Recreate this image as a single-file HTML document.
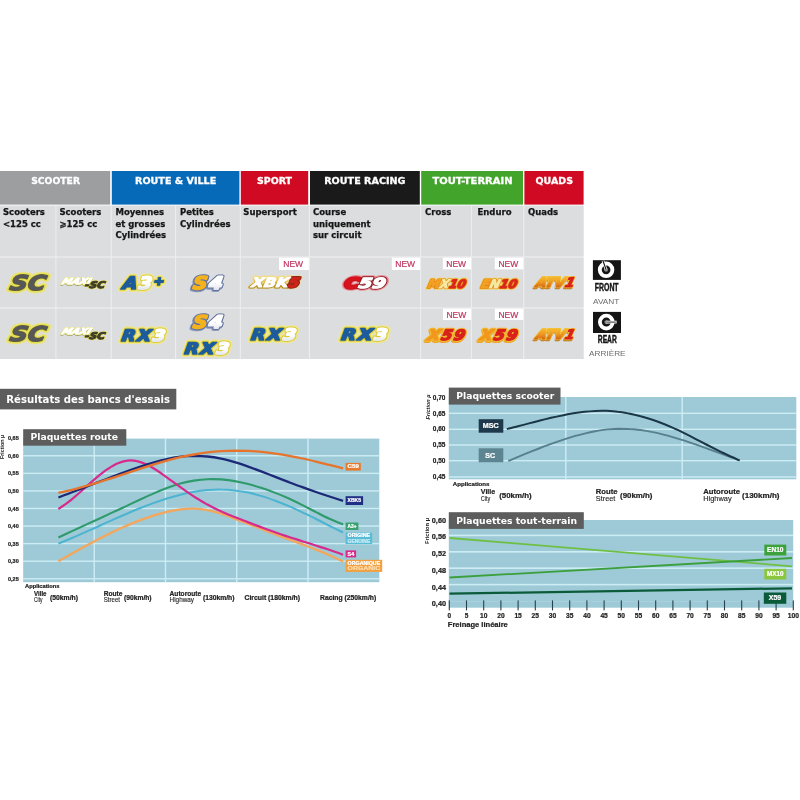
<!DOCTYPE html>
<html lang="fr"><head><meta charset="utf-8"><title>Plaquettes - Résultats des bancs d'essais</title>
<style>
html,body{margin:0;padding:0;background:#fff;}
body{width:800px;height:800px;overflow:hidden;}
svg{display:block;filter:blur(0.35px);}
</style></head><body>
<svg width="800" height="800" viewBox="0 0 800 800">
<defs>
<linearGradient id="gatv1" gradientUnits="userSpaceOnUse" x1="0" y1="278" x2="0" y2="288.4"><stop offset="0" stop-color="#f5b42e"/><stop offset="0.4" stop-color="#ee9620"/><stop offset="0.75" stop-color="#dc7418"/><stop offset="1" stop-color="#c25414"/></linearGradient>
<linearGradient id="gatv2" gradientUnits="userSpaceOnUse" x1="0" y1="330" x2="0" y2="340.4"><stop offset="0" stop-color="#f5b42e"/><stop offset="0.4" stop-color="#ee9620"/><stop offset="0.75" stop-color="#dc7418"/><stop offset="1" stop-color="#c25414"/></linearGradient>
<linearGradient id="gwh" x1="0" y1="0" x2="0" y2="1"><stop offset="0" stop-color="#ffffff"/><stop offset="0.5" stop-color="#ffffff"/><stop offset="1" stop-color="#d5d9e2"/></linearGradient>
<linearGradient id="gxbk" gradientUnits="userSpaceOnUse" x1="0" y1="276" x2="0" y2="289"><stop offset="0" stop-color="#f2e08e"/><stop offset="0.45" stop-color="#e2b83e"/><stop offset="1" stop-color="#9c7a1c"/></linearGradient>
</defs>
<rect width="800" height="800" fill="#ffffff"/>

<g id="table">
<rect x="0" y="171" width="110.2" height="33.6" fill="#9d9e9f" />
<text x="31.2" y="184.4" font-family="'DejaVu Sans','Liberation Sans',sans-serif" font-size="9.4" fill="#fff" font-weight="bold" textLength="48.8" lengthAdjust="spacingAndGlyphs" stroke="#fff" stroke-width="0.3">SCOOTER</text>
<rect x="111.8" y="171" width="127.6" height="33.6" fill="#066ab8" />
<text x="135" y="184.4" font-family="'DejaVu Sans','Liberation Sans',sans-serif" font-size="9.4" fill="#fff" font-weight="bold" textLength="81.3" lengthAdjust="spacingAndGlyphs" stroke="#fff" stroke-width="0.3">ROUTE &amp; VILLE</text>
<rect x="240.8" y="171" width="67.4" height="33.6" fill="#d00a22" />
<text x="257" y="184.4" font-family="'DejaVu Sans','Liberation Sans',sans-serif" font-size="9.4" fill="#fff" font-weight="bold" textLength="35" lengthAdjust="spacingAndGlyphs" stroke="#fff" stroke-width="0.3">SPORT</text>
<rect x="310" y="171" width="109.8" height="33.6" fill="#1a1a1a" />
<text x="324.2" y="184.4" font-family="'DejaVu Sans','Liberation Sans',sans-serif" font-size="9.4" fill="#fff" font-weight="bold" textLength="81.3" lengthAdjust="spacingAndGlyphs" stroke="#fff" stroke-width="0.3">ROUTE RACING</text>
<rect x="421.2" y="171" width="101.8" height="33.6" fill="#43a42b" />
<text x="432.5" y="184.4" font-family="'DejaVu Sans','Liberation Sans',sans-serif" font-size="9.4" fill="#fff" font-weight="bold" textLength="80.0" lengthAdjust="spacingAndGlyphs" stroke="#fff" stroke-width="0.3">TOUT-TERRAIN</text>
<rect x="524.4" y="171" width="59.2" height="33.6" fill="#d00a22" />
<text x="535.5" y="184.4" font-family="'DejaVu Sans','Liberation Sans',sans-serif" font-size="9.4" fill="#fff" font-weight="bold" textLength="37.5" lengthAdjust="spacingAndGlyphs" stroke="#fff" stroke-width="0.3">QUADS</text>
<rect x="0" y="205" width="583.6" height="154" fill="#eeeff0" />
<rect x="0" y="206" width="55.4" height="50.4" fill="#dcddde" />
<rect x="56.4" y="206" width="54.3" height="50.4" fill="#dcddde" />
<rect x="111.7" y="206" width="63.4" height="50.4" fill="#dcddde" />
<rect x="176.1" y="206" width="63.7" height="50.4" fill="#dcddde" />
<rect x="240.8" y="206" width="68.1" height="50.4" fill="#dcddde" />
<rect x="309.9" y="206" width="110.2" height="50.4" fill="#dcddde" />
<rect x="421.1" y="206" width="49.8" height="50.4" fill="#dcddde" />
<rect x="471.9" y="206" width="51.4" height="50.4" fill="#dcddde" />
<rect x="524.3" y="206" width="59.3" height="50.4" fill="#dcddde" />
<rect x="0" y="257.6" width="55.4" height="49.8" fill="#dcddde" />
<rect x="56.4" y="257.6" width="54.3" height="49.8" fill="#dcddde" />
<rect x="111.7" y="257.6" width="63.4" height="49.8" fill="#dcddde" />
<rect x="176.1" y="257.6" width="63.7" height="49.8" fill="#dcddde" />
<rect x="240.8" y="257.6" width="68.1" height="49.8" fill="#dcddde" />
<rect x="309.9" y="257.6" width="110.2" height="49.8" fill="#dcddde" />
<rect x="421.1" y="257.6" width="49.8" height="49.8" fill="#dcddde" />
<rect x="471.9" y="257.6" width="51.4" height="49.8" fill="#dcddde" />
<rect x="524.3" y="257.6" width="59.3" height="49.8" fill="#dcddde" />
<rect x="0" y="308.6" width="55.4" height="50.4" fill="#dcddde" />
<rect x="56.4" y="308.6" width="54.3" height="50.4" fill="#dcddde" />
<rect x="111.7" y="308.6" width="63.4" height="50.4" fill="#dcddde" />
<rect x="176.1" y="308.6" width="63.7" height="50.4" fill="#dcddde" />
<rect x="240.8" y="308.6" width="68.1" height="50.4" fill="#dcddde" />
<rect x="309.9" y="308.6" width="110.2" height="50.4" fill="#dcddde" />
<rect x="421.1" y="308.6" width="49.8" height="50.4" fill="#dcddde" />
<rect x="471.9" y="308.6" width="51.4" height="50.4" fill="#dcddde" />
<rect x="524.3" y="308.6" width="59.3" height="50.4" fill="#dcddde" />
<text x="3" y="215.1" font-family="'DejaVu Sans','Liberation Sans',sans-serif" font-size="8.5" fill="#161616" font-weight="bold" stroke="#161616" stroke-width="0.25">Scooters</text>
<text x="3" y="226.5" font-family="'DejaVu Sans','Liberation Sans',sans-serif" font-size="8.5" fill="#161616" font-weight="bold" stroke="#161616" stroke-width="0.25">&lt;125 cc</text>
<text x="59.4" y="215.1" font-family="'DejaVu Sans','Liberation Sans',sans-serif" font-size="8.5" fill="#161616" font-weight="bold" stroke="#161616" stroke-width="0.25">Scooters</text>
<text x="59.4" y="226.5" font-family="'DejaVu Sans','Liberation Sans',sans-serif" font-size="8.5" fill="#161616" font-weight="bold" stroke="#161616" stroke-width="0.25">⩾125 cc</text>
<text x="115.5" y="215.1" font-family="'DejaVu Sans','Liberation Sans',sans-serif" font-size="8.5" fill="#161616" font-weight="bold" stroke="#161616" stroke-width="0.25">Moyennes</text>
<text x="115.5" y="226.5" font-family="'DejaVu Sans','Liberation Sans',sans-serif" font-size="8.5" fill="#161616" font-weight="bold" stroke="#161616" stroke-width="0.25">et grosses</text>
<text x="115.5" y="237.9" font-family="'DejaVu Sans','Liberation Sans',sans-serif" font-size="8.5" fill="#161616" font-weight="bold" stroke="#161616" stroke-width="0.25">Cylindrées</text>
<text x="180" y="215.1" font-family="'DejaVu Sans','Liberation Sans',sans-serif" font-size="8.5" fill="#161616" font-weight="bold" stroke="#161616" stroke-width="0.25">Petites</text>
<text x="180" y="226.5" font-family="'DejaVu Sans','Liberation Sans',sans-serif" font-size="8.5" fill="#161616" font-weight="bold" stroke="#161616" stroke-width="0.25">Cylindrées</text>
<text x="243.3" y="215.1" font-family="'DejaVu Sans','Liberation Sans',sans-serif" font-size="8.5" fill="#161616" font-weight="bold" stroke="#161616" stroke-width="0.25">Supersport</text>
<text x="313" y="215.1" font-family="'DejaVu Sans','Liberation Sans',sans-serif" font-size="8.5" fill="#161616" font-weight="bold" stroke="#161616" stroke-width="0.25">Course</text>
<text x="313" y="226.5" font-family="'DejaVu Sans','Liberation Sans',sans-serif" font-size="8.5" fill="#161616" font-weight="bold" stroke="#161616" stroke-width="0.25">uniquement</text>
<text x="313" y="237.9" font-family="'DejaVu Sans','Liberation Sans',sans-serif" font-size="8.5" fill="#161616" font-weight="bold" stroke="#161616" stroke-width="0.25">sur circuit</text>
<text x="425" y="215.1" font-family="'DejaVu Sans','Liberation Sans',sans-serif" font-size="8.5" fill="#161616" font-weight="bold" stroke="#161616" stroke-width="0.25">Cross</text>
<text x="477.5" y="215.1" font-family="'DejaVu Sans','Liberation Sans',sans-serif" font-size="8.5" fill="#161616" font-weight="bold" stroke="#161616" stroke-width="0.25">Enduro</text>
<text x="528" y="215.1" font-family="'DejaVu Sans','Liberation Sans',sans-serif" font-size="8.5" fill="#161616" font-weight="bold" stroke="#161616" stroke-width="0.25">Quads</text>
</g>
<g transform="translate(57.24,0) skewX(-11.46)">
<text x="10.6" y="289.8" font-family="'DejaVu Sans','Liberation Sans',sans-serif" font-size="20.4" font-weight="bold" font-style="italic" textLength="35.8" lengthAdjust="spacingAndGlyphs" stroke-linejoin="round" transform="translate(0,0)" fill="#e9e58e" stroke="#e9e58e" stroke-width="6.2"><tspan>SC</tspan></text>
<text x="10.6" y="289.8" font-family="'DejaVu Sans','Liberation Sans',sans-serif" font-size="20.4" font-weight="bold" font-style="italic" textLength="35.8" lengthAdjust="spacingAndGlyphs" stroke-linejoin="round" fill="#e6de54" stroke="#e6de54" stroke-width="4.2"><tspan>SC</tspan></text>
<text x="10.6" y="289.8" font-family="'DejaVu Sans','Liberation Sans',sans-serif" font-size="20.4" font-weight="bold" font-style="italic" textLength="35.8" lengthAdjust="spacingAndGlyphs" stroke-linejoin="round" fill="#66662e" stroke="#66662e" stroke-width="1.5"><tspan>SC</tspan></text>
<text x="10.6" y="289.8" font-family="'DejaVu Sans','Liberation Sans',sans-serif" font-size="20.4" font-weight="bold" font-style="italic" textLength="35.8" lengthAdjust="spacingAndGlyphs" stroke-linejoin="round"><tspan fill="#57575b" stroke="#57575b" stroke-width="0.3">SC</tspan></text>
</g>
<g transform="translate(125.28,0) skewX(-24.06)">
<text x="62.6" y="283.6" font-family="'DejaVu Sans','Liberation Sans',sans-serif" font-size="8.4" font-weight="bold" font-style="italic" textLength="28.8" lengthAdjust="spacingAndGlyphs" stroke-linejoin="round" transform="translate(0.2,1.0)" fill="#8c8c30" stroke="#8c8c30" stroke-width="1.2"><tspan>MAXI</tspan></text>
<text x="62.6" y="283.6" font-family="'DejaVu Sans','Liberation Sans',sans-serif" font-size="8.4" font-weight="bold" font-style="italic" textLength="28.8" lengthAdjust="spacingAndGlyphs" stroke-linejoin="round" fill="#e6e07a" stroke="#e6e07a" stroke-width="1.9"><tspan>MAXI</tspan></text>
<text x="62.6" y="283.6" font-family="'DejaVu Sans','Liberation Sans',sans-serif" font-size="8.4" font-weight="bold" font-style="italic" textLength="28.8" lengthAdjust="spacingAndGlyphs" stroke-linejoin="round"><tspan fill="#ffffff" stroke="#ffffff" stroke-width="0.9">MAXI</tspan></text>
</g>
<g transform="translate(57.72,0) skewX(-11.46)">
<text x="85.2" y="288.1" font-family="'DejaVu Sans','Liberation Sans',sans-serif" font-size="9.2" font-weight="bold" font-style="italic" textLength="20.0" lengthAdjust="spacingAndGlyphs" stroke-linejoin="round" fill="#e2dc5a" stroke="#e2dc5a" stroke-width="2.0"><tspan>-SC</tspan></text>
<text x="85.2" y="288.1" font-family="'DejaVu Sans','Liberation Sans',sans-serif" font-size="9.2" font-weight="bold" font-style="italic" textLength="20.0" lengthAdjust="spacingAndGlyphs" stroke-linejoin="round"><tspan fill="#3e3e28" stroke="#3e3e28" stroke-width="1.0">-SC</tspan></text>
</g>
<g transform="translate(67.53,0) skewX(-11.46)">
<text x="10.6" y="340.6" font-family="'DejaVu Sans','Liberation Sans',sans-serif" font-size="20.4" font-weight="bold" font-style="italic" textLength="35.8" lengthAdjust="spacingAndGlyphs" stroke-linejoin="round" transform="translate(0,0)" fill="#e9e58e" stroke="#e9e58e" stroke-width="6.2"><tspan>SC</tspan></text>
<text x="10.6" y="340.6" font-family="'DejaVu Sans','Liberation Sans',sans-serif" font-size="20.4" font-weight="bold" font-style="italic" textLength="35.8" lengthAdjust="spacingAndGlyphs" stroke-linejoin="round" fill="#e6de54" stroke="#e6de54" stroke-width="4.2"><tspan>SC</tspan></text>
<text x="10.6" y="340.6" font-family="'DejaVu Sans','Liberation Sans',sans-serif" font-size="20.4" font-weight="bold" font-style="italic" textLength="35.8" lengthAdjust="spacingAndGlyphs" stroke-linejoin="round" fill="#66662e" stroke="#66662e" stroke-width="1.5"><tspan>SC</tspan></text>
<text x="10.6" y="340.6" font-family="'DejaVu Sans','Liberation Sans',sans-serif" font-size="20.4" font-weight="bold" font-style="italic" textLength="35.8" lengthAdjust="spacingAndGlyphs" stroke-linejoin="round"><tspan fill="#57575b" stroke="#57575b" stroke-width="0.3">SC</tspan></text>
</g>
<g transform="translate(147.96,0) skewX(-24.06)">
<text x="62.6" y="334.40000000000003" font-family="'DejaVu Sans','Liberation Sans',sans-serif" font-size="8.4" font-weight="bold" font-style="italic" textLength="28.8" lengthAdjust="spacingAndGlyphs" stroke-linejoin="round" transform="translate(0.2,1.0)" fill="#8c8c30" stroke="#8c8c30" stroke-width="1.2"><tspan>MAXI</tspan></text>
<text x="62.6" y="334.40000000000003" font-family="'DejaVu Sans','Liberation Sans',sans-serif" font-size="8.4" font-weight="bold" font-style="italic" textLength="28.8" lengthAdjust="spacingAndGlyphs" stroke-linejoin="round" fill="#e6e07a" stroke="#e6e07a" stroke-width="1.9"><tspan>MAXI</tspan></text>
<text x="62.6" y="334.40000000000003" font-family="'DejaVu Sans','Liberation Sans',sans-serif" font-size="8.4" font-weight="bold" font-style="italic" textLength="28.8" lengthAdjust="spacingAndGlyphs" stroke-linejoin="round"><tspan fill="#ffffff" stroke="#ffffff" stroke-width="0.9">MAXI</tspan></text>
</g>
<g transform="translate(68.02,0) skewX(-11.46)">
<text x="85.2" y="338.90000000000003" font-family="'DejaVu Sans','Liberation Sans',sans-serif" font-size="9.2" font-weight="bold" font-style="italic" textLength="20.0" lengthAdjust="spacingAndGlyphs" stroke-linejoin="round" fill="#e2dc5a" stroke="#e2dc5a" stroke-width="2.0"><tspan>-SC</tspan></text>
<text x="85.2" y="338.90000000000003" font-family="'DejaVu Sans','Liberation Sans',sans-serif" font-size="9.2" font-weight="bold" font-style="italic" textLength="20.0" lengthAdjust="spacingAndGlyphs" stroke-linejoin="round"><tspan fill="#3e3e28" stroke="#3e3e28" stroke-width="1.0">-SC</tspan></text>
</g>
<g transform="translate(36.92,0) skewX(-7.45)">
<text x="123" y="288.6" font-family="'DejaVu Sans','Liberation Sans',sans-serif" font-size="17" font-weight="bold" font-style="italic" textLength="43" lengthAdjust="spacingAndGlyphs" stroke-linejoin="round" letter-spacing="1.4" transform="translate(0,0)" fill="#efe88e" stroke="#efe88e" stroke-width="5.8"><tspan>A</tspan><tspan>3</tspan><tspan font-size="11.5" dy="-3.2">+</tspan></text>
<text x="123" y="288.6" font-family="'DejaVu Sans','Liberation Sans',sans-serif" font-size="17" font-weight="bold" font-style="italic" textLength="43" lengthAdjust="spacingAndGlyphs" stroke-linejoin="round" letter-spacing="1.4" fill="#ddd040" stroke="#ddd040" stroke-width="3.6"><tspan>A</tspan><tspan>3</tspan><tspan font-size="11.5" dy="-3.2">+</tspan></text>
<text x="123" y="288.6" font-family="'DejaVu Sans','Liberation Sans',sans-serif" font-size="17" font-weight="bold" font-style="italic" textLength="43" lengthAdjust="spacingAndGlyphs" stroke-linejoin="round" letter-spacing="1.4"><tspan fill="#1c5c9c" stroke="#1c5c9c" stroke-width="1.7">A</tspan><tspan fill="url(#gwh)" stroke="url(#gwh)" stroke-width="1.7">3</tspan><tspan font-size="11.5" dy="-3.2" fill="#1c5c9c" stroke="#1c5c9c" stroke-width="1.7">+</tspan></text>
</g>
<g transform="translate(36.93,0) skewX(-7.45)">
<text x="193.4" y="288.8" font-family="'DejaVu Sans','Liberation Sans',sans-serif" font-size="17.4" font-weight="bold" font-style="italic" textLength="31.6" lengthAdjust="spacingAndGlyphs" stroke-linejoin="round" letter-spacing="1.6" transform="translate(-0.8,1.0)" fill="#8c9bbb" stroke="#8c9bbb" stroke-width="4.2"><tspan>S</tspan><tspan>4</tspan></text>
<text x="193.4" y="288.8" font-family="'DejaVu Sans','Liberation Sans',sans-serif" font-size="17.4" font-weight="bold" font-style="italic" textLength="31.6" lengthAdjust="spacingAndGlyphs" stroke-linejoin="round" letter-spacing="1.6" fill="#62739f" stroke="#62739f" stroke-width="3.8"><tspan>S</tspan><tspan>4</tspan></text>
<text x="193.4" y="288.8" font-family="'DejaVu Sans','Liberation Sans',sans-serif" font-size="17.4" font-weight="bold" font-style="italic" textLength="31.6" lengthAdjust="spacingAndGlyphs" stroke-linejoin="round" letter-spacing="1.6"><tspan fill="#f4b21e" stroke="#f4b21e" stroke-width="1.8">S</tspan><tspan fill="url(#gwh)" stroke="url(#gwh)" stroke-width="1.8">4</tspan></text>
</g>
<g transform="translate(57.26,0) skewX(-11.46)">
<text x="252" y="287.2" font-family="'DejaVu Sans','Liberation Sans',sans-serif" font-size="13" font-weight="bold" font-style="italic" textLength="47.8" lengthAdjust="spacingAndGlyphs" stroke-linejoin="round" transform="translate(0,0.2)" fill="#ecdca0" stroke="#ecdca0" stroke-width="4.2"><tspan>XBK</tspan><tspan>5</tspan></text>
<text x="252" y="287.2" font-family="'DejaVu Sans','Liberation Sans',sans-serif" font-size="13" font-weight="bold" font-style="italic" textLength="47.8" lengthAdjust="spacingAndGlyphs" stroke-linejoin="round" fill="url(#gxbk)" stroke="url(#gxbk)" stroke-width="3.0"><tspan>XBK</tspan><tspan fill="#8e2a14" stroke="#8e2a14">5</tspan></text>
<text x="252" y="287.2" font-family="'DejaVu Sans','Liberation Sans',sans-serif" font-size="13" font-weight="bold" font-style="italic" textLength="47.8" lengthAdjust="spacingAndGlyphs" stroke-linejoin="round"><tspan fill="#ffffff" stroke="#ffffff" stroke-width="1.0">XBK</tspan><tspan fill="#cf241a" stroke="#cf241a" stroke-width="1.0">5</tspan></text>
</g>
<g transform="translate(57.3,0) skewX(-11.46)">
<text x="345" y="287.8" font-family="'DejaVu Sans','Liberation Sans',sans-serif" font-size="14" font-weight="bold" font-style="italic" textLength="41" lengthAdjust="spacingAndGlyphs" stroke-linejoin="round" transform="translate(0,0)" fill="#e78e96" stroke="#e78e96" stroke-width="5.0"><tspan>C</tspan><tspan>59</tspan></text>
<text x="345" y="287.8" font-family="'DejaVu Sans','Liberation Sans',sans-serif" font-size="14" font-weight="bold" font-style="italic" textLength="41" lengthAdjust="spacingAndGlyphs" stroke-linejoin="round" fill="#8c1822" stroke="#8c1822" stroke-width="2.9"><tspan fill="#c4121c" stroke="#c4121c">C</tspan><tspan>59</tspan></text>
<text x="345" y="287.8" font-family="'DejaVu Sans','Liberation Sans',sans-serif" font-size="14" font-weight="bold" font-style="italic" textLength="41" lengthAdjust="spacingAndGlyphs" stroke-linejoin="round"><tspan fill="#d8141e" stroke="#d8141e" stroke-width="1.3">C</tspan><tspan fill="#ffffff" stroke="#ffffff" stroke-width="1.3">59</tspan></text>
</g>
<g transform="translate(69.39,0) skewX(-13.75)">
<text x="428.4" y="287.8" font-family="'DejaVu Sans','Liberation Sans',sans-serif" font-size="11.6" font-weight="bold" font-style="italic" textLength="37.6" lengthAdjust="spacingAndGlyphs" stroke-linejoin="round" transform="translate(0,0)" fill="#f3d462" stroke="#f3d462" stroke-width="3.6"><tspan>M</tspan><tspan>X</tspan><tspan>10</tspan></text>
<text x="428.4" y="287.8" font-family="'DejaVu Sans','Liberation Sans',sans-serif" font-size="11.6" font-weight="bold" font-style="italic" textLength="37.6" lengthAdjust="spacingAndGlyphs" stroke-linejoin="round" fill="#df861c" stroke="#df861c" stroke-width="2.2"><tspan>M</tspan><tspan>X</tspan><tspan>10</tspan></text>
<text x="428.4" y="287.8" font-family="'DejaVu Sans','Liberation Sans',sans-serif" font-size="11.6" font-weight="bold" font-style="italic" textLength="37.6" lengthAdjust="spacingAndGlyphs" stroke-linejoin="round"><tspan fill="#f3a024" stroke="#f3a024" stroke-width="0.9">M</tspan><tspan fill="#f7e9a2" stroke="#f7e9a2" stroke-width="0.9">X</tspan><tspan fill="#dc261b" stroke="#dc261b" stroke-width="0.9">10</tspan></text>
</g>
<g transform="translate(69.39,0) skewX(-13.75)">
<text x="481.6" y="287.8" font-family="'DejaVu Sans','Liberation Sans',sans-serif" font-size="11.6" font-weight="bold" font-style="italic" textLength="35.6" lengthAdjust="spacingAndGlyphs" stroke-linejoin="round" transform="translate(0,0)" fill="#f3d462" stroke="#f3d462" stroke-width="3.6"><tspan>E</tspan><tspan>N</tspan><tspan>10</tspan></text>
<text x="481.6" y="287.8" font-family="'DejaVu Sans','Liberation Sans',sans-serif" font-size="11.6" font-weight="bold" font-style="italic" textLength="35.6" lengthAdjust="spacingAndGlyphs" stroke-linejoin="round" fill="#df861c" stroke="#df861c" stroke-width="2.2"><tspan>E</tspan><tspan>N</tspan><tspan>10</tspan></text>
<text x="481.6" y="287.8" font-family="'DejaVu Sans','Liberation Sans',sans-serif" font-size="11.6" font-weight="bold" font-style="italic" textLength="35.6" lengthAdjust="spacingAndGlyphs" stroke-linejoin="round"><tspan fill="#f3a024" stroke="#f3a024" stroke-width="0.9">E</tspan><tspan fill="#f7e9a2" stroke="#f7e9a2" stroke-width="0.9">N</tspan><tspan fill="#dc261b" stroke="#dc261b" stroke-width="0.9">10</tspan></text>
</g>
<g transform="translate(75.2,0) skewX(-14.90)">
<text x="536.6" y="287.5" font-family="'DejaVu Sans','Liberation Sans',sans-serif" font-size="13.2" font-weight="bold" font-style="italic" textLength="38.4" lengthAdjust="spacingAndGlyphs" stroke-linejoin="round" transform="translate(-0.2,0.9)" fill="#b8721c" stroke="#b8721c" stroke-width="2.4"><tspan>ATV</tspan><tspan>1</tspan></text>
<text x="536.6" y="287.5" font-family="'DejaVu Sans','Liberation Sans',sans-serif" font-size="13.2" font-weight="bold" font-style="italic" textLength="38.4" lengthAdjust="spacingAndGlyphs" stroke-linejoin="round" fill="#f2c63a" stroke="#f2c63a" stroke-width="2.6"><tspan>ATV</tspan><tspan>1</tspan></text>
<text x="536.6" y="287.5" font-family="'DejaVu Sans','Liberation Sans',sans-serif" font-size="13.2" font-weight="bold" font-style="italic" textLength="38.4" lengthAdjust="spacingAndGlyphs" stroke-linejoin="round"><tspan fill="url(#gatv1)" stroke="url(#gatv1)" stroke-width="1.2">ATV</tspan><tspan fill="#d8221c" stroke="#d8221c" stroke-width="1.2">1</tspan></text>
</g>
<g transform="translate(43.78,0) skewX(-7.45)">
<text x="122.0" y="340.6" font-family="'DejaVu Sans','Liberation Sans',sans-serif" font-size="15.8" font-weight="bold" font-style="italic" textLength="45.3" lengthAdjust="spacingAndGlyphs" stroke-linejoin="round" letter-spacing="1.5" transform="translate(0,0)" fill="#efe88e" stroke="#efe88e" stroke-width="6.0"><tspan>RX</tspan><tspan>3</tspan></text>
<text x="122.0" y="340.6" font-family="'DejaVu Sans','Liberation Sans',sans-serif" font-size="15.8" font-weight="bold" font-style="italic" textLength="45.3" lengthAdjust="spacingAndGlyphs" stroke-linejoin="round" letter-spacing="1.5" fill="#d9ca3a" stroke="#d9ca3a" stroke-width="3.6"><tspan>RX</tspan><tspan>3</tspan></text>
<text x="122.0" y="340.6" font-family="'DejaVu Sans','Liberation Sans',sans-serif" font-size="15.8" font-weight="bold" font-style="italic" textLength="45.3" lengthAdjust="spacingAndGlyphs" stroke-linejoin="round" letter-spacing="1.5"><tspan fill="#1c5c9c" stroke="#1c5c9c" stroke-width="1.7">RX</tspan><tspan fill="url(#gwh)" stroke="url(#gwh)" stroke-width="1.7">3</tspan></text>
</g>
<g transform="translate(42.1,0) skewX(-7.45)">
<text x="193.4" y="328.40000000000003" font-family="'DejaVu Sans','Liberation Sans',sans-serif" font-size="17.4" font-weight="bold" font-style="italic" textLength="31.6" lengthAdjust="spacingAndGlyphs" stroke-linejoin="round" letter-spacing="1.6" transform="translate(-0.8,1.0)" fill="#8c9bbb" stroke="#8c9bbb" stroke-width="4.2"><tspan>S</tspan><tspan>4</tspan></text>
<text x="193.4" y="328.40000000000003" font-family="'DejaVu Sans','Liberation Sans',sans-serif" font-size="17.4" font-weight="bold" font-style="italic" textLength="31.6" lengthAdjust="spacingAndGlyphs" stroke-linejoin="round" letter-spacing="1.6" fill="#62739f" stroke="#62739f" stroke-width="3.8"><tspan>S</tspan><tspan>4</tspan></text>
<text x="193.4" y="328.40000000000003" font-family="'DejaVu Sans','Liberation Sans',sans-serif" font-size="17.4" font-weight="bold" font-style="italic" textLength="31.6" lengthAdjust="spacingAndGlyphs" stroke-linejoin="round" letter-spacing="1.6"><tspan fill="#f4b21e" stroke="#f4b21e" stroke-width="1.8">S</tspan><tspan fill="url(#gwh)" stroke="url(#gwh)" stroke-width="1.8">4</tspan></text>
</g>
<g transform="translate(45.5,0) skewX(-7.45)">
<text x="185.0" y="353.8" font-family="'DejaVu Sans','Liberation Sans',sans-serif" font-size="15.8" font-weight="bold" font-style="italic" textLength="46.2" lengthAdjust="spacingAndGlyphs" stroke-linejoin="round" letter-spacing="1.5" transform="translate(0,0)" fill="#efe88e" stroke="#efe88e" stroke-width="6.0"><tspan>RX</tspan><tspan>3</tspan></text>
<text x="185.0" y="353.8" font-family="'DejaVu Sans','Liberation Sans',sans-serif" font-size="15.8" font-weight="bold" font-style="italic" textLength="46.2" lengthAdjust="spacingAndGlyphs" stroke-linejoin="round" letter-spacing="1.5" fill="#d9ca3a" stroke="#d9ca3a" stroke-width="3.6"><tspan>RX</tspan><tspan>3</tspan></text>
<text x="185.0" y="353.8" font-family="'DejaVu Sans','Liberation Sans',sans-serif" font-size="15.8" font-weight="bold" font-style="italic" textLength="46.2" lengthAdjust="spacingAndGlyphs" stroke-linejoin="round" letter-spacing="1.5"><tspan fill="#1c5c9c" stroke="#1c5c9c" stroke-width="1.7">RX</tspan><tspan fill="url(#gwh)" stroke="url(#gwh)" stroke-width="1.7">3</tspan></text>
</g>
<g transform="translate(43.75,0) skewX(-7.45)">
<text x="251.4" y="340.40000000000003" font-family="'DejaVu Sans','Liberation Sans',sans-serif" font-size="15.8" font-weight="bold" font-style="italic" textLength="46.8" lengthAdjust="spacingAndGlyphs" stroke-linejoin="round" letter-spacing="1.5" transform="translate(0,0)" fill="#efe88e" stroke="#efe88e" stroke-width="6.0"><tspan>RX</tspan><tspan>3</tspan></text>
<text x="251.4" y="340.40000000000003" font-family="'DejaVu Sans','Liberation Sans',sans-serif" font-size="15.8" font-weight="bold" font-style="italic" textLength="46.8" lengthAdjust="spacingAndGlyphs" stroke-linejoin="round" letter-spacing="1.5" fill="#d9ca3a" stroke="#d9ca3a" stroke-width="3.6"><tspan>RX</tspan><tspan>3</tspan></text>
<text x="251.4" y="340.40000000000003" font-family="'DejaVu Sans','Liberation Sans',sans-serif" font-size="15.8" font-weight="bold" font-style="italic" textLength="46.8" lengthAdjust="spacingAndGlyphs" stroke-linejoin="round" letter-spacing="1.5"><tspan fill="#1c5c9c" stroke="#1c5c9c" stroke-width="1.7">RX</tspan><tspan fill="url(#gwh)" stroke="url(#gwh)" stroke-width="1.7">3</tspan></text>
</g>
<g transform="translate(43.75,0) skewX(-7.45)">
<text x="341.9" y="340.40000000000003" font-family="'DejaVu Sans','Liberation Sans',sans-serif" font-size="15.8" font-weight="bold" font-style="italic" textLength="47.7" lengthAdjust="spacingAndGlyphs" stroke-linejoin="round" letter-spacing="1.5" transform="translate(0,0)" fill="#efe88e" stroke="#efe88e" stroke-width="6.0"><tspan>RX</tspan><tspan>3</tspan></text>
<text x="341.9" y="340.40000000000003" font-family="'DejaVu Sans','Liberation Sans',sans-serif" font-size="15.8" font-weight="bold" font-style="italic" textLength="47.7" lengthAdjust="spacingAndGlyphs" stroke-linejoin="round" letter-spacing="1.5" fill="#d9ca3a" stroke="#d9ca3a" stroke-width="3.6"><tspan>RX</tspan><tspan>3</tspan></text>
<text x="341.9" y="340.40000000000003" font-family="'DejaVu Sans','Liberation Sans',sans-serif" font-size="15.8" font-weight="bold" font-style="italic" textLength="47.7" lengthAdjust="spacingAndGlyphs" stroke-linejoin="round" letter-spacing="1.5"><tspan fill="#1c5c9c" stroke="#1c5c9c" stroke-width="1.7">RX</tspan><tspan fill="url(#gwh)" stroke="url(#gwh)" stroke-width="1.7">3</tspan></text>
</g>
<g transform="translate(74.86,0) skewX(-12.61)">
<text x="428.09999999999997" y="340" font-family="'DejaVu Sans','Liberation Sans',sans-serif" font-size="14.4" font-weight="bold" font-style="italic" textLength="38.5" lengthAdjust="spacingAndGlyphs" stroke-linejoin="round" letter-spacing="1.2" transform="translate(-0.3,0.6)" fill="#e9a52a" stroke="#e9a52a" stroke-width="3.8"><tspan>X</tspan><tspan>59</tspan></text>
<text x="428.09999999999997" y="340" font-family="'DejaVu Sans','Liberation Sans',sans-serif" font-size="14.4" font-weight="bold" font-style="italic" textLength="38.5" lengthAdjust="spacingAndGlyphs" stroke-linejoin="round" letter-spacing="1.2" fill="#f3bc30" stroke="#f3bc30" stroke-width="3.4"><tspan>X</tspan><tspan>59</tspan></text>
<text x="428.09999999999997" y="340" font-family="'DejaVu Sans','Liberation Sans',sans-serif" font-size="14.4" font-weight="bold" font-style="italic" textLength="38.5" lengthAdjust="spacingAndGlyphs" stroke-linejoin="round" letter-spacing="1.2"><tspan fill="#f0981e" stroke="#f0981e" stroke-width="1.4">X</tspan><tspan fill="#d8221b" stroke="#d8221b" stroke-width="1.4">59</tspan></text>
</g>
<g transform="translate(74.86,0) skewX(-12.61)">
<text x="480.79999999999995" y="340" font-family="'DejaVu Sans','Liberation Sans',sans-serif" font-size="14.4" font-weight="bold" font-style="italic" textLength="38.1" lengthAdjust="spacingAndGlyphs" stroke-linejoin="round" letter-spacing="1.2" transform="translate(-0.3,0.6)" fill="#e9a52a" stroke="#e9a52a" stroke-width="3.8"><tspan>X</tspan><tspan>59</tspan></text>
<text x="480.79999999999995" y="340" font-family="'DejaVu Sans','Liberation Sans',sans-serif" font-size="14.4" font-weight="bold" font-style="italic" textLength="38.1" lengthAdjust="spacingAndGlyphs" stroke-linejoin="round" letter-spacing="1.2" fill="#f3bc30" stroke="#f3bc30" stroke-width="3.4"><tspan>X</tspan><tspan>59</tspan></text>
<text x="480.79999999999995" y="340" font-family="'DejaVu Sans','Liberation Sans',sans-serif" font-size="14.4" font-weight="bold" font-style="italic" textLength="38.1" lengthAdjust="spacingAndGlyphs" stroke-linejoin="round" letter-spacing="1.2"><tspan fill="#f0981e" stroke="#f0981e" stroke-width="1.4">X</tspan><tspan fill="#d8221b" stroke="#d8221b" stroke-width="1.4">59</tspan></text>
</g>
<g transform="translate(89.03,0) skewX(-14.90)">
<text x="536.6" y="339.5" font-family="'DejaVu Sans','Liberation Sans',sans-serif" font-size="13.2" font-weight="bold" font-style="italic" textLength="38.4" lengthAdjust="spacingAndGlyphs" stroke-linejoin="round" transform="translate(-0.2,0.9)" fill="#b8721c" stroke="#b8721c" stroke-width="2.4"><tspan>ATV</tspan><tspan>1</tspan></text>
<text x="536.6" y="339.5" font-family="'DejaVu Sans','Liberation Sans',sans-serif" font-size="13.2" font-weight="bold" font-style="italic" textLength="38.4" lengthAdjust="spacingAndGlyphs" stroke-linejoin="round" fill="#f2c63a" stroke="#f2c63a" stroke-width="2.6"><tspan>ATV</tspan><tspan>1</tspan></text>
<text x="536.6" y="339.5" font-family="'DejaVu Sans','Liberation Sans',sans-serif" font-size="13.2" font-weight="bold" font-style="italic" textLength="38.4" lengthAdjust="spacingAndGlyphs" stroke-linejoin="round"><tspan fill="url(#gatv2)" stroke="url(#gatv2)" stroke-width="1.2">ATV</tspan><tspan fill="#d8221c" stroke="#d8221c" stroke-width="1.2">1</tspan></text>
</g>
<rect x="279" y="257.6" width="29.8" height="12.4" fill="#ffffff" />
<text x="283.3" y="266.6" font-family="'Liberation Sans','DejaVu Sans',sans-serif" font-size="8.5" fill="#bf3561" font-weight="normal" textLength="19.8" lengthAdjust="spacingAndGlyphs" stroke="#bf3561" stroke-width="0.2">NEW</text>
<rect x="391.8" y="257.6" width="28.2" height="12.4" fill="#ffffff" />
<text x="395.3" y="266.6" font-family="'Liberation Sans','DejaVu Sans',sans-serif" font-size="8.5" fill="#bf3561" font-weight="normal" textLength="19.8" lengthAdjust="spacingAndGlyphs" stroke="#bf3561" stroke-width="0.2">NEW</text>
<rect x="442.8" y="257.6" width="28.2" height="11.8" fill="#ffffff" />
<text x="446.3" y="266.6" font-family="'Liberation Sans','DejaVu Sans',sans-serif" font-size="8.5" fill="#bf3561" font-weight="normal" textLength="19.8" lengthAdjust="spacingAndGlyphs" stroke="#bf3561" stroke-width="0.2">NEW</text>
<rect x="494.8" y="257.6" width="28.6" height="11.8" fill="#ffffff" />
<text x="498.5" y="266.6" font-family="'Liberation Sans','DejaVu Sans',sans-serif" font-size="8.5" fill="#bf3561" font-weight="normal" textLength="19.8" lengthAdjust="spacingAndGlyphs" stroke="#bf3561" stroke-width="0.2">NEW</text>
<rect x="443" y="308.6" width="28" height="11.4" fill="#ffffff" />
<text x="446.4" y="317.6" font-family="'Liberation Sans','DejaVu Sans',sans-serif" font-size="8.5" fill="#bf3561" font-weight="normal" textLength="19.8" lengthAdjust="spacingAndGlyphs" stroke="#bf3561" stroke-width="0.2">NEW</text>
<rect x="494.8" y="308.6" width="28.6" height="11.4" fill="#ffffff" />
<text x="498.5" y="317.6" font-family="'Liberation Sans','DejaVu Sans',sans-serif" font-size="8.5" fill="#bf3561" font-weight="normal" textLength="19.8" lengthAdjust="spacingAndGlyphs" stroke="#bf3561" stroke-width="0.2">NEW</text>
<g id="icons">
<rect x="592.9" y="260.2" width="28.0" height="19.7" fill="#151515" />
<circle cx="606.1" cy="269.8" r="6.3" fill="none" stroke="#ffffff" stroke-width="3.9"/>
<circle cx="606.1" cy="269.8" r="1.9" fill="#8a8a8a"/>
<path d="M606.1 269.8 L602.9 260.6" stroke="#ffffff" stroke-width="2.6" fill="none"/>
<path d="M606.1 269.8 L602.8 260.2" stroke="#151515" stroke-width="1.1" fill="none"/>
<text x="594.8" y="290.6" font-family="'Liberation Sans','DejaVu Sans',sans-serif" font-size="10.2" fill="#161616" font-weight="bold" textLength="23.8" lengthAdjust="spacingAndGlyphs" stroke="#161616" stroke-width="0.45">FRONT</text>
<text x="593" y="303.7" font-family="'Liberation Sans','DejaVu Sans',sans-serif" font-size="7.6" fill="#6c6c6c" font-weight="normal" textLength="26.4" lengthAdjust="spacingAndGlyphs">AVANT</text>
<rect x="593" y="311.9" width="28" height="21.1" fill="#151515" />
<circle cx="606.3" cy="322.1" r="6.4" fill="none" stroke="#ffffff" stroke-width="3.8"/>
<circle cx="606.3" cy="322.1" r="1.9" fill="#8a8a8a"/>
<path d="M606.3 322.1 L616.6 322.1" stroke="#ffffff" stroke-width="2.8" fill="none"/>
<path d="M606.3 322.1 L615.8 322.1" stroke="#151515" stroke-width="0.9" fill="none"/>
<text x="597.8" y="342.9" font-family="'Liberation Sans','DejaVu Sans',sans-serif" font-size="10.2" fill="#161616" font-weight="bold" textLength="19" lengthAdjust="spacingAndGlyphs" stroke="#161616" stroke-width="0.45">REAR</text>
<text x="589" y="355.8" font-family="'Liberation Sans','DejaVu Sans',sans-serif" font-size="7.6" fill="#6c6c6c" font-weight="normal" textLength="36.6" lengthAdjust="spacingAndGlyphs">ARRIÈRE</text>
</g>
<rect x="0" y="388.8" width="176.3" height="20.6" fill="#5d5d5d" />
<text x="6.3" y="402.5" font-family="'DejaVu Sans','Liberation Sans',sans-serif" font-size="10.2" fill="#ffffff" font-weight="bold" textLength="163.7" lengthAdjust="spacingAndGlyphs">Résultats des bancs d&#x27;essais</text>
<g id="chart-route">
<rect x="23.2" y="438.6" width="356.1" height="143.6" fill="#9dcad6" />
<rect x="23.2" y="455.07" width="356.1" height="1.4" fill="#cdedf5" />
<rect x="23.2" y="472.64" width="356.1" height="1.4" fill="#cdedf5" />
<rect x="23.2" y="490.21" width="356.1" height="1.4" fill="#cdedf5" />
<rect x="23.2" y="507.78" width="356.1" height="1.4" fill="#cdedf5" />
<rect x="23.2" y="525.35" width="356.1" height="1.4" fill="#cdedf5" />
<rect x="23.2" y="542.92" width="356.1" height="1.4" fill="#cdedf5" />
<rect x="23.2" y="560.49" width="356.1" height="1.4" fill="#cdedf5" />
<rect x="23.2" y="578.06" width="356.1" height="1.4" fill="#cdedf5" />
<rect x="93.55" y="438.6" width="1.4" height="143.6" fill="#cdedf5" />
<rect x="164.8" y="438.6" width="1.4" height="143.6" fill="#cdedf5" />
<rect x="236.05" y="438.6" width="1.4" height="143.6" fill="#cdedf5" />
<rect x="307.3" y="438.6" width="1.4" height="143.6" fill="#cdedf5" />
<rect x="23.2" y="429.2" width="103.1" height="16.5" fill="#5d5d5d" />
<text x="30.6" y="440.2" font-family="'DejaVu Sans','Liberation Sans',sans-serif" font-size="9.1" fill="#ffffff" font-weight="bold" textLength="87.4" lengthAdjust="spacingAndGlyphs">Plaquettes route</text>
<text x="8" y="440.2" font-family="'Liberation Sans','DejaVu Sans',sans-serif" font-size="5.6" fill="#222222" font-weight="bold" textLength="10.7" lengthAdjust="spacingAndGlyphs" stroke="#222222" stroke-width="0.22">0,65</text>
<text x="8" y="457.8" font-family="'Liberation Sans','DejaVu Sans',sans-serif" font-size="5.6" fill="#222222" font-weight="bold" textLength="10.7" lengthAdjust="spacingAndGlyphs" stroke="#222222" stroke-width="0.22">0,60</text>
<text x="8" y="475.3" font-family="'Liberation Sans','DejaVu Sans',sans-serif" font-size="5.6" fill="#222222" font-weight="bold" textLength="10.7" lengthAdjust="spacingAndGlyphs" stroke="#222222" stroke-width="0.22">0,55</text>
<text x="8" y="492.9" font-family="'Liberation Sans','DejaVu Sans',sans-serif" font-size="5.6" fill="#222222" font-weight="bold" textLength="10.7" lengthAdjust="spacingAndGlyphs" stroke="#222222" stroke-width="0.22">0,50</text>
<text x="8" y="510.5" font-family="'Liberation Sans','DejaVu Sans',sans-serif" font-size="5.6" fill="#222222" font-weight="bold" textLength="10.7" lengthAdjust="spacingAndGlyphs" stroke="#222222" stroke-width="0.22">0,45</text>
<text x="8" y="528.0" font-family="'Liberation Sans','DejaVu Sans',sans-serif" font-size="5.6" fill="#222222" font-weight="bold" textLength="10.7" lengthAdjust="spacingAndGlyphs" stroke="#222222" stroke-width="0.22">0,40</text>
<text x="8" y="545.6" font-family="'Liberation Sans','DejaVu Sans',sans-serif" font-size="5.6" fill="#222222" font-weight="bold" textLength="10.7" lengthAdjust="spacingAndGlyphs" stroke="#222222" stroke-width="0.22">0,35</text>
<text x="8" y="563.2" font-family="'Liberation Sans','DejaVu Sans',sans-serif" font-size="5.6" fill="#222222" font-weight="bold" textLength="10.7" lengthAdjust="spacingAndGlyphs" stroke="#222222" stroke-width="0.22">0,30</text>
<text x="8" y="580.8" font-family="'Liberation Sans','DejaVu Sans',sans-serif" font-size="5.6" fill="#222222" font-weight="bold" textLength="10.7" lengthAdjust="spacingAndGlyphs" stroke="#222222" stroke-width="0.22">0,25</text>
<text transform="translate(4.3,459) rotate(-90)" font-family="'Liberation Sans','DejaVu Sans',sans-serif" font-size="5.4" font-weight="bold" fill="#222222" textLength="24" lengthAdjust="spacingAndGlyphs">Friction µ</text>
<path d="M58.4 561.2C60.7 559.9 67.5 556.0 72.0 553.5C76.5 551.0 81.0 548.4 85.5 546.0C90.0 543.6 94.6 541.2 99.1 538.8C103.6 536.5 108.1 534.3 112.6 532.1C117.1 529.9 121.7 527.9 126.2 525.9C130.7 524.0 135.2 522.1 139.7 520.4C144.2 518.7 148.8 517.0 153.3 515.6C157.8 514.2 162.4 512.9 166.9 511.8C171.4 510.8 175.9 509.9 180.4 509.4C184.9 508.9 189.5 508.6 194.0 508.7C198.5 508.9 203.0 509.3 207.5 510.1C212.0 511.0 216.6 512.3 221.1 513.7C225.6 515.1 230.1 516.9 234.6 518.6C239.1 520.3 243.7 522.1 248.2 523.9C252.7 525.6 257.3 527.4 261.8 529.1C266.3 530.9 270.8 532.6 275.3 534.3C279.8 536.1 284.4 537.7 288.9 539.4C293.4 541.1 297.9 542.7 302.4 544.4C306.9 546.1 311.5 547.8 316.0 549.6C320.5 551.4 325.0 553.3 329.5 555.2C334.0 557.2 340.8 560.4 343.1 561.5" fill="none" stroke="#f4a65c" stroke-width="2.3" stroke-linecap="butt" stroke-linejoin="round"/>
<path d="M58.4 543.6C60.7 542.7 67.5 539.9 72.0 538.0C76.5 536.1 81.0 534.1 85.5 532.1C90.0 530.1 94.6 528.1 99.1 526.0C103.6 524.0 108.1 521.9 112.6 519.9C117.1 517.9 121.7 515.9 126.2 514.0C130.7 512.0 135.2 510.1 139.7 508.3C144.2 506.5 148.8 504.7 153.3 503.1C157.8 501.5 162.4 499.9 166.9 498.5C171.4 497.1 175.9 495.8 180.4 494.7C184.9 493.6 189.5 492.6 194.0 491.8C198.5 491.0 203.0 490.4 207.5 490.0C212.0 489.6 216.6 489.4 221.1 489.5C225.6 489.5 230.1 489.8 234.6 490.4C239.1 490.9 243.7 491.7 248.2 492.6C252.7 493.6 257.3 494.8 261.8 496.1C266.3 497.5 270.8 499.1 275.3 500.7C279.8 502.4 284.4 504.2 288.9 506.2C293.4 508.1 297.9 510.2 302.4 512.3C306.9 514.5 311.5 516.7 316.0 519.0C320.5 521.2 325.0 523.5 329.5 525.8C334.0 528.0 340.8 531.4 343.1 532.5" fill="none" stroke="#4cb4d0" stroke-width="2.0" stroke-linecap="butt" stroke-linejoin="round"/>
<path d="M58.4 537.5C60.7 536.4 67.5 533.2 72.0 531.1C76.5 529.0 81.0 527.0 85.5 524.9C90.0 522.8 94.6 520.7 99.1 518.7C103.6 516.6 108.1 514.5 112.6 512.4C117.1 510.4 121.7 508.2 126.2 506.1C130.7 504.0 135.2 501.8 139.7 499.7C144.2 497.6 148.8 495.5 153.3 493.6C157.8 491.6 162.4 489.7 166.9 488.0C171.4 486.3 175.9 484.8 180.4 483.6C184.9 482.3 189.5 481.3 194.0 480.6C198.5 479.9 203.0 479.4 207.5 479.2C212.0 479.1 216.6 479.1 221.1 479.4C225.6 479.8 230.1 480.3 234.6 481.1C239.1 481.9 243.7 482.9 248.2 484.1C252.7 485.2 257.3 486.6 261.8 488.1C266.3 489.5 270.8 491.1 275.3 492.9C279.8 494.6 284.4 496.5 288.9 498.5C293.4 500.6 297.9 502.8 302.4 505.1C306.9 507.3 311.5 509.8 316.0 512.1C320.5 514.4 325.0 516.8 329.5 518.8C334.0 520.9 340.8 523.5 343.1 524.4" fill="none" stroke="#2f9a6c" stroke-width="2.1" stroke-linecap="butt" stroke-linejoin="round"/>
<path d="M58.4 509.1C60.0 508.0 64.9 504.8 68.2 502.2C71.5 499.7 74.7 496.8 78.0 494.0C81.3 491.2 84.6 488.1 87.9 485.2C91.2 482.3 94.4 479.4 97.7 476.7C101.0 474.0 104.2 471.4 107.5 469.2C110.8 467.1 114.0 465.0 117.3 463.6C120.6 462.2 123.8 461.1 127.1 460.7C130.4 460.2 133.6 460.4 136.9 461.1C140.2 461.7 143.5 463.1 146.8 464.6C150.1 466.1 153.3 468.2 156.6 470.2C159.9 472.3 163.1 474.7 166.4 477.1C169.7 479.4 172.9 481.8 176.2 484.1C179.5 486.5 182.7 488.9 186.0 491.1C189.3 493.4 192.5 495.6 195.8 497.7C199.1 499.7 202.4 501.7 205.7 503.6C209.0 505.4 212.2 507.2 215.5 508.8C218.8 510.4 222.0 511.8 225.3 513.2C228.6 514.6 231.8 515.9 235.1 517.2C238.4 518.5 241.6 519.8 244.9 521.0C248.2 522.3 251.4 523.6 254.7 524.8C258.0 526.0 261.3 527.3 264.6 528.5C267.9 529.7 271.1 530.8 274.4 532.0C277.7 533.1 280.9 534.3 284.2 535.4C287.5 536.4 290.7 537.5 294.0 538.5C297.3 539.6 300.5 540.6 303.8 541.7C307.1 542.7 310.3 543.7 313.6 544.8C316.9 545.8 320.2 546.9 323.5 547.9C326.8 549.0 330.0 550.1 333.3 551.2C336.6 552.3 341.5 554.1 343.1 554.7" fill="none" stroke="#d62a8c" stroke-width="2.2" stroke-linecap="butt" stroke-linejoin="round"/>
<path d="M58.4 497.5C60.7 496.7 67.5 494.1 72.0 492.3C76.5 490.6 81.0 488.8 85.5 487.1C90.0 485.3 94.6 483.6 99.1 481.8C103.6 480.1 108.1 478.4 112.6 476.7C117.1 475.0 121.7 473.3 126.2 471.7C130.7 470.0 135.2 468.4 139.7 466.9C144.2 465.4 148.8 463.9 153.3 462.6C157.8 461.3 162.4 460.1 166.9 459.1C171.4 458.1 175.9 457.3 180.4 456.7C184.9 456.2 189.5 455.9 194.0 455.8C198.5 455.8 203.0 456.0 207.5 456.5C212.0 456.9 216.6 457.7 221.1 458.7C225.6 459.6 230.1 460.9 234.6 462.2C239.1 463.5 243.7 465.1 248.2 466.7C252.7 468.3 257.3 470.0 261.8 471.7C266.3 473.4 270.8 475.2 275.3 476.9C279.8 478.7 284.4 480.5 288.9 482.2C293.4 483.9 297.9 485.6 302.4 487.2C306.9 488.8 311.5 490.4 316.0 492.0C320.5 493.6 325.0 495.1 329.5 496.5C334.0 498.0 340.8 500.1 343.1 500.8" fill="none" stroke="#1c2878" stroke-width="2.3" stroke-linecap="butt" stroke-linejoin="round"/>
<path d="M58.4 492.8C60.7 492.3 67.5 490.9 72.0 489.8C76.5 488.7 81.0 487.4 85.5 486.2C90.0 484.9 94.6 483.5 99.1 482.1C103.6 480.7 108.1 479.2 112.6 477.8C117.1 476.3 121.7 474.8 126.2 473.3C130.7 471.8 135.2 470.3 139.7 468.8C144.2 467.4 148.8 465.9 153.3 464.6C157.8 463.2 162.4 461.9 166.9 460.7C171.4 459.4 175.9 458.3 180.4 457.2C184.9 456.2 189.5 455.3 194.0 454.5C198.5 453.7 203.0 453.0 207.5 452.4C212.0 451.9 216.6 451.5 221.1 451.2C225.6 450.9 230.1 450.7 234.6 450.6C239.1 450.6 243.7 450.7 248.2 450.9C252.7 451.1 257.3 451.5 261.8 451.9C266.3 452.3 270.8 452.9 275.3 453.6C279.8 454.2 284.4 454.9 288.9 455.8C293.4 456.6 297.9 457.5 302.4 458.5C306.9 459.4 311.5 460.5 316.0 461.6C320.5 462.6 325.0 463.8 329.5 464.9C334.0 466.0 340.8 467.7 343.1 468.3" fill="none" stroke="#e6742c" stroke-width="2.3" stroke-linecap="butt" stroke-linejoin="round"/>
<rect x="345.6" y="462.9" width="15.2" height="7.7" fill="#e87a2c" />
<text x="347.6" y="468.4" font-family="'Liberation Sans','DejaVu Sans',sans-serif" font-size="4.6" fill="#ffffff" font-weight="bold" textLength="11.2" lengthAdjust="spacingAndGlyphs" stroke="#ffffff" stroke-width="0.22">C59</text>
<rect x="345.6" y="496.2" width="17.5" height="8.8" fill="#1f2f85" />
<text x="347.6" y="502.3" font-family="'Liberation Sans','DejaVu Sans',sans-serif" font-size="4.6" fill="#ffffff" font-weight="bold" textLength="13.5" lengthAdjust="spacingAndGlyphs" stroke="#ffffff" stroke-width="0.22">XBK5</text>
<rect x="345.6" y="522.5" width="12.8" height="7.5" fill="#3aa070" />
<text x="347.6" y="527.9" font-family="'Liberation Sans','DejaVu Sans',sans-serif" font-size="4.6" fill="#ffffff" font-weight="bold" textLength="8.8" lengthAdjust="spacingAndGlyphs" stroke="#ffffff" stroke-width="0.22">A3+</text>
<rect x="345.6" y="532.7" width="26.6" height="11.3" fill="#58bcd6" />
<text x="347.6" y="537.4" font-family="'Liberation Sans','DejaVu Sans',sans-serif" font-size="4.6" fill="#ffffff" font-weight="bold" textLength="22.6" lengthAdjust="spacingAndGlyphs" stroke="#ffffff" stroke-width="0.22">ORIGINE</text>
<text x="347.6" y="542.6" font-family="'Liberation Sans','DejaVu Sans',sans-serif" font-size="4.6" fill="#c8ecf5" font-weight="bold" textLength="22.6" lengthAdjust="spacingAndGlyphs" stroke="#c8ecf5" stroke-width="0.22">GENUINE</text>
<rect x="345.6" y="550.4" width="10.5" height="7.0" fill="#d8288a" />
<text x="347.6" y="555.6" font-family="'Liberation Sans','DejaVu Sans',sans-serif" font-size="4.6" fill="#ffffff" font-weight="bold" textLength="6.5" lengthAdjust="spacingAndGlyphs" stroke="#ffffff" stroke-width="0.22">S4</text>
<rect x="345.6" y="559.8" width="36.6" height="12.1" fill="#f2a040" />
<text x="347.6" y="564.9" font-family="'Liberation Sans','DejaVu Sans',sans-serif" font-size="4.6" fill="#ffffff" font-weight="bold" textLength="32.6" lengthAdjust="spacingAndGlyphs" stroke="#ffffff" stroke-width="0.22">ORGANIQUE</text>
<text x="347.6" y="570.1" font-family="'Liberation Sans','DejaVu Sans',sans-serif" font-size="4.6" fill="#fbdcae" font-weight="bold" textLength="32.6" lengthAdjust="spacingAndGlyphs" stroke="#fbdcae" stroke-width="0.22">ORGANIC</text>
<text x="25" y="588" font-family="'Liberation Sans','DejaVu Sans',sans-serif" font-size="5.7" fill="#222222" font-weight="bold" textLength="34.4" lengthAdjust="spacingAndGlyphs" stroke="#222222" stroke-width="0.22">Applications</text>
<text x="34" y="596.4" font-family="'Liberation Sans','DejaVu Sans',sans-serif" font-size="7" fill="#222222" font-weight="bold" textLength="12.5" lengthAdjust="spacingAndGlyphs" stroke="#222222" stroke-width="0.22">Ville</text>
<text x="34" y="602.2" font-family="'Liberation Sans','DejaVu Sans',sans-serif" font-size="6.8" fill="#222222" font-weight="normal" textLength="8.5" lengthAdjust="spacingAndGlyphs" stroke="#222222" stroke-width="0.12">City</text>
<text x="50" y="599.8" font-family="'Liberation Sans','DejaVu Sans',sans-serif" font-size="6.7" fill="#222222" font-weight="bold" textLength="28" lengthAdjust="spacingAndGlyphs" stroke="#222222" stroke-width="0.22">(50km/h)</text>
<text x="103.7" y="596.4" font-family="'Liberation Sans','DejaVu Sans',sans-serif" font-size="7" fill="#222222" font-weight="bold" textLength="18.7" lengthAdjust="spacingAndGlyphs" stroke="#222222" stroke-width="0.22">Route</text>
<text x="103.7" y="602.2" font-family="'Liberation Sans','DejaVu Sans',sans-serif" font-size="6.8" fill="#222222" font-weight="normal" textLength="16.3" lengthAdjust="spacingAndGlyphs" stroke="#222222" stroke-width="0.12">Street</text>
<text x="124" y="599.8" font-family="'Liberation Sans','DejaVu Sans',sans-serif" font-size="6.7" fill="#222222" font-weight="bold" textLength="27.6" lengthAdjust="spacingAndGlyphs" stroke="#222222" stroke-width="0.22">(90km/h)</text>
<text x="169.6" y="596.4" font-family="'Liberation Sans','DejaVu Sans',sans-serif" font-size="7" fill="#222222" font-weight="bold" textLength="31.6" lengthAdjust="spacingAndGlyphs" stroke="#222222" stroke-width="0.22">Autoroute</text>
<text x="169.6" y="602.2" font-family="'Liberation Sans','DejaVu Sans',sans-serif" font-size="6.8" fill="#222222" font-weight="normal" textLength="24.4" lengthAdjust="spacingAndGlyphs" stroke="#222222" stroke-width="0.12">Highway</text>
<text x="203" y="599.8" font-family="'Liberation Sans','DejaVu Sans',sans-serif" font-size="6.7" fill="#222222" font-weight="bold" textLength="31.5" lengthAdjust="spacingAndGlyphs" stroke="#222222" stroke-width="0.22">(130km/h)</text>
<text x="244.5" y="599.8" font-family="'Liberation Sans','DejaVu Sans',sans-serif" font-size="6.7" fill="#222222" font-weight="bold" textLength="55.5" lengthAdjust="spacingAndGlyphs" stroke="#222222" stroke-width="0.22">Circuit (180km/h)</text>
<text x="320" y="599.8" font-family="'Liberation Sans','DejaVu Sans',sans-serif" font-size="6.7" fill="#222222" font-weight="bold" textLength="56.2" lengthAdjust="spacingAndGlyphs" stroke="#222222" stroke-width="0.22">Racing (250km/h)</text>
</g>
<g id="chart-scooter">
<rect x="448.8" y="397" width="347.5" height="82.3" fill="#9dcad6" />
<rect x="448.8" y="412.6" width="347.5" height="1.4" fill="#cdedf5" />
<rect x="448.8" y="428.6" width="347.5" height="1.4" fill="#cdedf5" />
<rect x="448.8" y="444.3" width="347.5" height="1.4" fill="#cdedf5" />
<rect x="448.8" y="460.0" width="347.5" height="1.4" fill="#cdedf5" />
<rect x="448.8" y="476.3" width="347.5" height="1.4" fill="#cdedf5" />
<rect x="565.0999999999999" y="397" width="1.4" height="82.3" fill="#cdedf5" />
<rect x="681.5" y="397" width="1.4" height="82.3" fill="#cdedf5" />
<rect x="448.8" y="387.6" width="111.7" height="17.0" fill="#5d5d5d" />
<text x="456.3" y="399" font-family="'DejaVu Sans','Liberation Sans',sans-serif" font-size="9.2" fill="#ffffff" font-weight="bold" textLength="98" lengthAdjust="spacingAndGlyphs">Plaquettes scooter</text>
<text x="432.8" y="399.7" font-family="'Liberation Sans','DejaVu Sans',sans-serif" font-size="6.9" fill="#222222" font-weight="bold" textLength="12.6" lengthAdjust="spacingAndGlyphs" stroke="#222222" stroke-width="0.22">0,70</text>
<text x="432.8" y="415.6" font-family="'Liberation Sans','DejaVu Sans',sans-serif" font-size="6.9" fill="#222222" font-weight="bold" textLength="12.6" lengthAdjust="spacingAndGlyphs" stroke="#222222" stroke-width="0.22">0,65</text>
<text x="432.8" y="431.4" font-family="'Liberation Sans','DejaVu Sans',sans-serif" font-size="6.9" fill="#222222" font-weight="bold" textLength="12.6" lengthAdjust="spacingAndGlyphs" stroke="#222222" stroke-width="0.22">0,60</text>
<text x="432.8" y="447.2" font-family="'Liberation Sans','DejaVu Sans',sans-serif" font-size="6.9" fill="#222222" font-weight="bold" textLength="12.6" lengthAdjust="spacingAndGlyphs" stroke="#222222" stroke-width="0.22">0,55</text>
<text x="432.8" y="463.1" font-family="'Liberation Sans','DejaVu Sans',sans-serif" font-size="6.9" fill="#222222" font-weight="bold" textLength="12.6" lengthAdjust="spacingAndGlyphs" stroke="#222222" stroke-width="0.22">0,50</text>
<text x="432.8" y="478.9" font-family="'Liberation Sans','DejaVu Sans',sans-serif" font-size="6.9" fill="#222222" font-weight="bold" textLength="12.6" lengthAdjust="spacingAndGlyphs" stroke="#222222" stroke-width="0.22">0,45</text>
<text transform="translate(430.4,419.6) rotate(-90)" font-family="'Liberation Sans','DejaVu Sans',sans-serif" font-size="5.8" font-weight="bold" font-style="italic" fill="#222222" textLength="25" lengthAdjust="spacingAndGlyphs">Friction µ</text>
<path d="M508.3 461.0C510.1 460.3 515.6 457.9 519.3 456.4C523.0 454.8 526.6 453.3 530.3 451.9C534.0 450.4 537.6 448.9 541.3 447.5C545.0 446.1 548.7 444.7 552.4 443.4C556.1 442.1 559.7 440.8 563.4 439.6C567.1 438.5 570.7 437.3 574.4 436.2C578.1 435.2 581.7 434.2 585.4 433.3C589.1 432.4 592.7 431.6 596.4 431.0C600.1 430.4 603.7 429.8 607.4 429.4C611.1 429.1 614.7 428.8 618.4 428.7C622.1 428.7 625.8 428.7 629.5 429.0C633.2 429.2 636.8 429.6 640.5 430.0C644.2 430.5 647.8 431.1 651.5 431.9C655.2 432.6 658.8 433.4 662.5 434.3C666.2 435.2 669.8 436.2 673.5 437.3C677.2 438.4 680.8 439.5 684.5 440.7C688.2 441.9 691.8 443.1 695.5 444.4C699.2 445.7 702.9 447.0 706.6 448.3C710.3 449.7 713.9 451.0 717.6 452.4C721.3 453.7 724.9 455.1 728.6 456.4C732.3 457.7 737.8 459.6 739.6 460.3" fill="none" stroke="#587f8e" stroke-width="1.9" stroke-linecap="butt" stroke-linejoin="round"/>
<path d="M506.8 429.0C508.6 428.6 514.2 427.2 517.9 426.3C521.6 425.3 525.3 424.4 529.0 423.4C532.7 422.4 536.4 421.5 540.1 420.5C543.8 419.6 547.4 418.7 551.1 417.8C554.8 416.9 558.5 416.1 562.2 415.4C565.9 414.6 569.6 413.9 573.3 413.3C577.0 412.7 580.7 412.2 584.4 411.8C588.1 411.4 591.8 411.1 595.5 410.9C599.2 410.7 602.9 410.7 606.6 410.8C610.3 411.0 614.0 411.2 617.7 411.7C621.4 412.1 625.0 412.8 628.7 413.5C632.4 414.2 636.1 415.0 639.8 416.0C643.5 416.9 647.2 418.0 650.9 419.2C654.6 420.4 658.3 421.7 662.0 423.2C665.7 424.6 669.4 426.2 673.1 427.9C676.8 429.5 680.5 431.3 684.2 433.1C687.9 435.0 691.6 436.9 695.3 438.8C699.0 440.7 702.6 442.6 706.3 444.5C710.0 446.4 713.7 448.3 717.4 450.2C721.1 452.0 724.8 453.8 728.5 455.5C732.2 457.2 737.8 459.6 739.6 460.4" fill="none" stroke="#1b3646" stroke-width="2.0" stroke-linecap="butt" stroke-linejoin="round"/>
<rect x="478.7" y="419.2" width="24.6" height="13.5" fill="#1e394b" />
<text x="482.8" y="428.3" font-family="'Liberation Sans','DejaVu Sans',sans-serif" font-size="6.4" fill="#ffffff" font-weight="bold" textLength="16" lengthAdjust="spacingAndGlyphs" stroke="#ffffff" stroke-width="0.22">MSC</text>
<rect x="478.7" y="448.3" width="24.6" height="13.9" fill="#5d8491" />
<text x="485.3" y="457.6" font-family="'Liberation Sans','DejaVu Sans',sans-serif" font-size="6.4" fill="#ffffff" font-weight="bold" textLength="9.9" lengthAdjust="spacingAndGlyphs" stroke="#ffffff" stroke-width="0.22">SC</text>
<text x="452.8" y="486" font-family="'Liberation Sans','DejaVu Sans',sans-serif" font-size="6.1" fill="#222222" font-weight="bold" textLength="36.7" lengthAdjust="spacingAndGlyphs" stroke="#222222" stroke-width="0.22">Applications</text>
<text x="480.8" y="494.1" font-family="'Liberation Sans','DejaVu Sans',sans-serif" font-size="7.9" fill="#222222" font-weight="bold" textLength="14.4" lengthAdjust="spacingAndGlyphs" stroke="#222222" stroke-width="0.22">Ville</text>
<text x="480.8" y="501.2" font-family="'Liberation Sans','DejaVu Sans',sans-serif" font-size="7.6" fill="#222222" font-weight="normal" textLength="9.6" lengthAdjust="spacingAndGlyphs" stroke="#222222" stroke-width="0.12">City</text>
<text x="499.2" y="498.1" font-family="'Liberation Sans','DejaVu Sans',sans-serif" font-size="7.8" fill="#222222" font-weight="bold" textLength="32.5" lengthAdjust="spacingAndGlyphs" stroke="#222222" stroke-width="0.22">(50km/h)</text>
<text x="595.8" y="494.1" font-family="'Liberation Sans','DejaVu Sans',sans-serif" font-size="7.9" fill="#222222" font-weight="bold" textLength="21.7" lengthAdjust="spacingAndGlyphs" stroke="#222222" stroke-width="0.22">Route</text>
<text x="595.8" y="501.2" font-family="'Liberation Sans','DejaVu Sans',sans-serif" font-size="7.6" fill="#222222" font-weight="normal" textLength="19.6" lengthAdjust="spacingAndGlyphs" stroke="#222222" stroke-width="0.12">Street</text>
<text x="620" y="498.1" font-family="'Liberation Sans','DejaVu Sans',sans-serif" font-size="7.8" fill="#222222" font-weight="bold" textLength="32.5" lengthAdjust="spacingAndGlyphs" stroke="#222222" stroke-width="0.22">(90km/h)</text>
<text x="703.2" y="494.1" font-family="'Liberation Sans','DejaVu Sans',sans-serif" font-size="7.9" fill="#222222" font-weight="bold" textLength="36.8" lengthAdjust="spacingAndGlyphs" stroke="#222222" stroke-width="0.22">Autoroute</text>
<text x="703.2" y="501.2" font-family="'Liberation Sans','DejaVu Sans',sans-serif" font-size="7.6" fill="#222222" font-weight="normal" textLength="28.4" lengthAdjust="spacingAndGlyphs" stroke="#222222" stroke-width="0.12">Highway</text>
<text x="742" y="498.1" font-family="'Liberation Sans','DejaVu Sans',sans-serif" font-size="7.8" fill="#222222" font-weight="bold" textLength="37.5" lengthAdjust="spacingAndGlyphs" stroke="#222222" stroke-width="0.22">(130km/h)</text>
</g>
<g id="chart-tt">
<rect x="448.8" y="520" width="344.4" height="87.7" fill="#9dcad6" />
<rect x="448.8" y="534.6" width="344.4" height="1.6" fill="#cdedf5" />
<rect x="448.8" y="551.0" width="344.4" height="1.6" fill="#cdedf5" />
<rect x="448.8" y="567.4" width="344.4" height="1.6" fill="#cdedf5" />
<rect x="448.8" y="583.8" width="344.4" height="1.6" fill="#cdedf5" />
<rect x="448.8" y="600.9" width="344.4" height="1.0" fill="#a9d3de" />
<rect x="448.8" y="512.2" width="135.0" height="16.7" fill="#5d5d5d" />
<text x="456.3" y="523.6" font-family="'DejaVu Sans','Liberation Sans',sans-serif" font-size="9.2" fill="#ffffff" font-weight="bold" textLength="120.7" lengthAdjust="spacingAndGlyphs">Plaquettes tout-terrain</text>
<text x="431.8" y="522.7" font-family="'Liberation Sans','DejaVu Sans',sans-serif" font-size="7.1" fill="#222222" font-weight="bold" textLength="14.2" lengthAdjust="spacingAndGlyphs" stroke="#222222" stroke-width="0.22">0,60</text>
<text x="431.8" y="539.4" font-family="'Liberation Sans','DejaVu Sans',sans-serif" font-size="7.1" fill="#222222" font-weight="bold" textLength="14.2" lengthAdjust="spacingAndGlyphs" stroke="#222222" stroke-width="0.22">0,56</text>
<text x="431.8" y="556.1" font-family="'Liberation Sans','DejaVu Sans',sans-serif" font-size="7.1" fill="#222222" font-weight="bold" textLength="14.2" lengthAdjust="spacingAndGlyphs" stroke="#222222" stroke-width="0.22">0,52</text>
<text x="431.8" y="572.9" font-family="'Liberation Sans','DejaVu Sans',sans-serif" font-size="7.1" fill="#222222" font-weight="bold" textLength="14.2" lengthAdjust="spacingAndGlyphs" stroke="#222222" stroke-width="0.22">0,48</text>
<text x="431.8" y="589.6" font-family="'Liberation Sans','DejaVu Sans',sans-serif" font-size="7.1" fill="#222222" font-weight="bold" textLength="14.2" lengthAdjust="spacingAndGlyphs" stroke="#222222" stroke-width="0.22">0,44</text>
<text x="431.8" y="606.3" font-family="'Liberation Sans','DejaVu Sans',sans-serif" font-size="7.1" fill="#222222" font-weight="bold" textLength="14.2" lengthAdjust="spacingAndGlyphs" stroke="#222222" stroke-width="0.22">0,40</text>
<text transform="translate(428.6,544) rotate(-90)" font-family="'Liberation Sans','DejaVu Sans',sans-serif" font-size="5.8" font-weight="bold" fill="#222222" textLength="26" lengthAdjust="spacingAndGlyphs">Friction µ</text>
<path d="M449.5 538 L792 566.3" stroke="#6fbf45" stroke-width="1.8" fill="none"/>
<path d="M449.5 577.5 L792 558" stroke="#3b9f3c" stroke-width="1.8" fill="none"/>
<path d="M449.5 593.7 L792 588.3" stroke="#0b5b3a" stroke-width="2.2" fill="none"/>
<rect x="448.75" y="600.4" width="1.1" height="10.0" fill="#27424e" />
<text x="447.5" y="617.6" font-family="'Liberation Sans','DejaVu Sans',sans-serif" font-size="6.9" fill="#222222" font-weight="bold" textLength="3.6" lengthAdjust="spacingAndGlyphs" stroke="#222222" stroke-width="0.22">0</text>
<rect x="465.95" y="600.4" width="1.1" height="10.0" fill="#27424e" />
<text x="464.7" y="617.6" font-family="'Liberation Sans','DejaVu Sans',sans-serif" font-size="6.9" fill="#222222" font-weight="bold" textLength="3.6" lengthAdjust="spacingAndGlyphs" stroke="#222222" stroke-width="0.22">5</text>
<rect x="483.15" y="600.4" width="1.1" height="10.0" fill="#27424e" />
<text x="480.0" y="617.6" font-family="'Liberation Sans','DejaVu Sans',sans-serif" font-size="6.9" fill="#222222" font-weight="bold" textLength="7.4" lengthAdjust="spacingAndGlyphs" stroke="#222222" stroke-width="0.22">10</text>
<rect x="500.35" y="600.4" width="1.1" height="10.0" fill="#27424e" />
<text x="497.2" y="617.6" font-family="'Liberation Sans','DejaVu Sans',sans-serif" font-size="6.9" fill="#222222" font-weight="bold" textLength="7.4" lengthAdjust="spacingAndGlyphs" stroke="#222222" stroke-width="0.22">20</text>
<rect x="517.55" y="600.4" width="1.1" height="10.0" fill="#27424e" />
<text x="514.4" y="617.6" font-family="'Liberation Sans','DejaVu Sans',sans-serif" font-size="6.9" fill="#222222" font-weight="bold" textLength="7.4" lengthAdjust="spacingAndGlyphs" stroke="#222222" stroke-width="0.22">15</text>
<rect x="534.75" y="600.4" width="1.1" height="10.0" fill="#27424e" />
<text x="531.6" y="617.6" font-family="'Liberation Sans','DejaVu Sans',sans-serif" font-size="6.9" fill="#222222" font-weight="bold" textLength="7.4" lengthAdjust="spacingAndGlyphs" stroke="#222222" stroke-width="0.22">25</text>
<rect x="551.95" y="600.4" width="1.1" height="10.0" fill="#27424e" />
<text x="548.8" y="617.6" font-family="'Liberation Sans','DejaVu Sans',sans-serif" font-size="6.9" fill="#222222" font-weight="bold" textLength="7.4" lengthAdjust="spacingAndGlyphs" stroke="#222222" stroke-width="0.22">30</text>
<rect x="569.15" y="600.4" width="1.1" height="10.0" fill="#27424e" />
<text x="566.0" y="617.6" font-family="'Liberation Sans','DejaVu Sans',sans-serif" font-size="6.9" fill="#222222" font-weight="bold" textLength="7.4" lengthAdjust="spacingAndGlyphs" stroke="#222222" stroke-width="0.22">35</text>
<rect x="586.35" y="600.4" width="1.1" height="10.0" fill="#27424e" />
<text x="583.2" y="617.6" font-family="'Liberation Sans','DejaVu Sans',sans-serif" font-size="6.9" fill="#222222" font-weight="bold" textLength="7.4" lengthAdjust="spacingAndGlyphs" stroke="#222222" stroke-width="0.22">40</text>
<rect x="603.55" y="600.4" width="1.1" height="10.0" fill="#27424e" />
<text x="600.4" y="617.6" font-family="'Liberation Sans','DejaVu Sans',sans-serif" font-size="6.9" fill="#222222" font-weight="bold" textLength="7.4" lengthAdjust="spacingAndGlyphs" stroke="#222222" stroke-width="0.22">45</text>
<rect x="620.75" y="600.4" width="1.1" height="10.0" fill="#27424e" />
<text x="617.6" y="617.6" font-family="'Liberation Sans','DejaVu Sans',sans-serif" font-size="6.9" fill="#222222" font-weight="bold" textLength="7.4" lengthAdjust="spacingAndGlyphs" stroke="#222222" stroke-width="0.22">50</text>
<rect x="637.95" y="600.4" width="1.1" height="10.0" fill="#27424e" />
<text x="634.8" y="617.6" font-family="'Liberation Sans','DejaVu Sans',sans-serif" font-size="6.9" fill="#222222" font-weight="bold" textLength="7.4" lengthAdjust="spacingAndGlyphs" stroke="#222222" stroke-width="0.22">55</text>
<rect x="655.15" y="600.4" width="1.1" height="10.0" fill="#27424e" />
<text x="652.0" y="617.6" font-family="'Liberation Sans','DejaVu Sans',sans-serif" font-size="6.9" fill="#222222" font-weight="bold" textLength="7.4" lengthAdjust="spacingAndGlyphs" stroke="#222222" stroke-width="0.22">60</text>
<rect x="672.35" y="600.4" width="1.1" height="10.0" fill="#27424e" />
<text x="669.2" y="617.6" font-family="'Liberation Sans','DejaVu Sans',sans-serif" font-size="6.9" fill="#222222" font-weight="bold" textLength="7.4" lengthAdjust="spacingAndGlyphs" stroke="#222222" stroke-width="0.22">65</text>
<rect x="689.55" y="600.4" width="1.1" height="10.0" fill="#27424e" />
<text x="686.4" y="617.6" font-family="'Liberation Sans','DejaVu Sans',sans-serif" font-size="6.9" fill="#222222" font-weight="bold" textLength="7.4" lengthAdjust="spacingAndGlyphs" stroke="#222222" stroke-width="0.22">70</text>
<rect x="706.75" y="600.4" width="1.1" height="10.0" fill="#27424e" />
<text x="703.6" y="617.6" font-family="'Liberation Sans','DejaVu Sans',sans-serif" font-size="6.9" fill="#222222" font-weight="bold" textLength="7.4" lengthAdjust="spacingAndGlyphs" stroke="#222222" stroke-width="0.22">75</text>
<rect x="723.95" y="600.4" width="1.1" height="10.0" fill="#27424e" />
<text x="720.8" y="617.6" font-family="'Liberation Sans','DejaVu Sans',sans-serif" font-size="6.9" fill="#222222" font-weight="bold" textLength="7.4" lengthAdjust="spacingAndGlyphs" stroke="#222222" stroke-width="0.22">80</text>
<rect x="741.15" y="600.4" width="1.1" height="10.0" fill="#27424e" />
<text x="738.0" y="617.6" font-family="'Liberation Sans','DejaVu Sans',sans-serif" font-size="6.9" fill="#222222" font-weight="bold" textLength="7.4" lengthAdjust="spacingAndGlyphs" stroke="#222222" stroke-width="0.22">85</text>
<rect x="758.35" y="600.4" width="1.1" height="10.0" fill="#27424e" />
<text x="755.2" y="617.6" font-family="'Liberation Sans','DejaVu Sans',sans-serif" font-size="6.9" fill="#222222" font-weight="bold" textLength="7.4" lengthAdjust="spacingAndGlyphs" stroke="#222222" stroke-width="0.22">90</text>
<rect x="775.55" y="600.4" width="1.1" height="10.0" fill="#27424e" />
<text x="772.4" y="617.6" font-family="'Liberation Sans','DejaVu Sans',sans-serif" font-size="6.9" fill="#222222" font-weight="bold" textLength="7.4" lengthAdjust="spacingAndGlyphs" stroke="#222222" stroke-width="0.22">95</text>
<rect x="792.75" y="600.4" width="1.1" height="10.0" fill="#27424e" />
<text x="787.7" y="617.6" font-family="'Liberation Sans','DejaVu Sans',sans-serif" font-size="6.9" fill="#222222" font-weight="bold" textLength="11.2" lengthAdjust="spacingAndGlyphs" stroke="#222222" stroke-width="0.22">100</text>
<text x="447.8" y="627" font-family="'Liberation Sans','DejaVu Sans',sans-serif" font-size="7.5" fill="#222222" font-weight="bold" textLength="60" lengthAdjust="spacingAndGlyphs" stroke="#222222" stroke-width="0.22">Freinage linéaire</text>
<rect x="764.3" y="544.6" width="22.0" height="10.9" fill="#3da23c" />
<text x="767.1" y="552.3" font-family="'Liberation Sans','DejaVu Sans',sans-serif" font-size="6.3" fill="#ffffff" font-weight="bold" textLength="16.4" lengthAdjust="spacingAndGlyphs" stroke="#ffffff" stroke-width="0.22">EN10</text>
<rect x="764.3" y="568.8" width="22.0" height="10.7" fill="#8cc63f" />
<text x="767.1" y="576.4" font-family="'Liberation Sans','DejaVu Sans',sans-serif" font-size="6.3" fill="#ffffff" font-weight="bold" textLength="16.4" lengthAdjust="spacingAndGlyphs" stroke="#ffffff" stroke-width="0.22">MX10</text>
<rect x="763.8" y="592.5" width="22.5" height="11.3" fill="#0b5b3a" />
<text x="768.8" y="600.4" font-family="'Liberation Sans','DejaVu Sans',sans-serif" font-size="6.3" fill="#ffffff" font-weight="bold" textLength="12.4" lengthAdjust="spacingAndGlyphs" stroke="#ffffff" stroke-width="0.22">X59</text>
</g>
</svg></body></html>
